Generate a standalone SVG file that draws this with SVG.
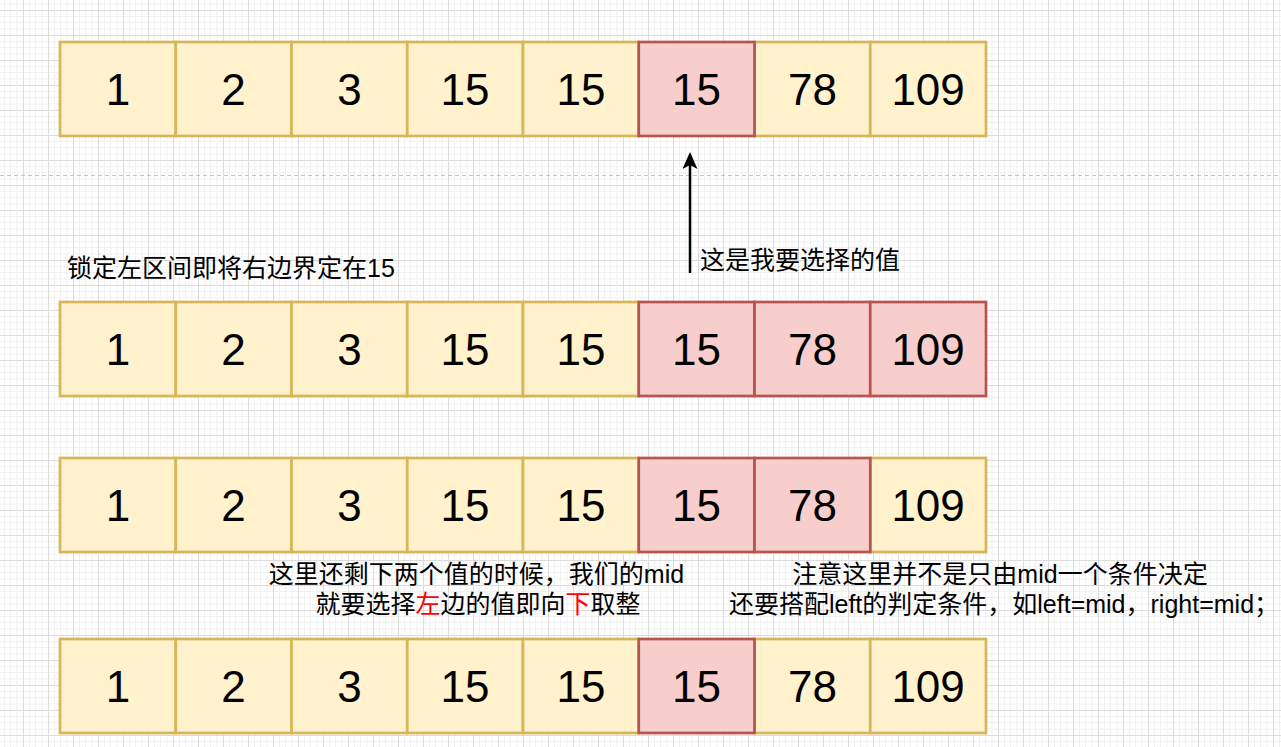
<svg xmlns="http://www.w3.org/2000/svg" width="1281" height="747" viewBox="0 0 1281 747">
<defs>
<pattern id="grid" patternUnits="userSpaceOnUse" x="23" y="10" width="25" height="25">
<path d="M6.5 0V25M12.5 0V25M19 0V25M0 6.5H25M0 12.5H25M0 19H25" stroke="#f1f1f1" stroke-width="1" fill="none"/>
<path d="M0.5 0V25M0 0.5H25" stroke="#dcdcdc" stroke-width="1" fill="none"/>
</pattern>
<marker id="arrow" markerUnits="userSpaceOnUse" viewBox="0 0 17 15" markerWidth="17" markerHeight="15" refX="4" refY="7.5" orient="auto">
<path d="M0 0L17 7.5L0 15L4 7.5Z" fill="#000"/>
</marker>
<style>
.y{fill:#fff2cc;stroke:#d6b656;stroke-width:2.7}
.r{fill:#f8cecc;stroke:#b85450;stroke-width:2.7}
.n{font-family:"Liberation Sans",Arial,sans-serif;font-size:44px;fill:#000;text-anchor:middle}
.t{font-family:"Liberation Sans","Noto Sans CJK SC",sans-serif;font-size:25px;fill:#000}
.c{text-anchor:middle}
.red{fill:#ff0000}
</style>
</defs>
<rect width="1281" height="747" fill="#ffffff"/>
<rect width="1281" height="747" fill="url(#grid)"/>
<line x1="0" y1="175.5" x2="1281" y2="175.5" stroke="#c4c4c4" stroke-width="1" stroke-dasharray="4 3"/>

<g id="row1">
<g id="r1c1"><rect class="y" x="60" y="42" width="115.75" height="94"/><text class="n" x="117.9" y="104.5">1</text></g>
<g id="r1c2"><rect class="y" x="175.75" y="42" width="115.75" height="94"/><text class="n" x="233.6" y="104.5">2</text></g>
<g id="r1c3"><rect class="y" x="291.5" y="42" width="115.75" height="94"/><text class="n" x="349.4" y="104.5">3</text></g>
<g id="r1c4"><rect class="y" x="407.25" y="42" width="115.75" height="94"/><text class="n" x="465.1" y="104.5">15</text></g>
<g id="r1c5"><rect class="y" x="523" y="42" width="115.75" height="94"/><text class="n" x="580.9" y="104.5">15</text></g>
<g id="r1c7"><rect class="y" x="754.5" y="42" width="115.75" height="94"/><text class="n" x="812.4" y="104.5">78</text></g>
<g id="r1c8"><rect class="y" x="870.25" y="42" width="115.75" height="94"/><text class="n" x="928.1" y="104.5">109</text></g>
<g id="r1c6"><rect class="r" x="638.75" y="42" width="115.75" height="94"/><text class="n" x="696.6" y="104.5">15</text></g>
</g>

<g id="row2">
<g id="r2c1"><rect class="y" x="60" y="302" width="115.75" height="94"/><text class="n" x="117.9" y="364.5">1</text></g>
<g id="r2c2"><rect class="y" x="175.75" y="302" width="115.75" height="94"/><text class="n" x="233.6" y="364.5">2</text></g>
<g id="r2c3"><rect class="y" x="291.5" y="302" width="115.75" height="94"/><text class="n" x="349.4" y="364.5">3</text></g>
<g id="r2c4"><rect class="y" x="407.25" y="302" width="115.75" height="94"/><text class="n" x="465.1" y="364.5">15</text></g>
<g id="r2c5"><rect class="y" x="523" y="302" width="115.75" height="94"/><text class="n" x="580.9" y="364.5">15</text></g>
<g id="r2c6"><rect class="r" x="638.75" y="302" width="115.75" height="94"/><text class="n" x="696.6" y="364.5">15</text></g>
<g id="r2c7"><rect class="r" x="754.5" y="302" width="115.75" height="94"/><text class="n" x="812.4" y="364.5">78</text></g>
<g id="r2c8"><rect class="r" x="870.25" y="302" width="115.75" height="94"/><text class="n" x="928.1" y="364.5">109</text></g>
</g>

<g id="row3">
<g id="r3c1"><rect class="y" x="60" y="458" width="115.75" height="94"/><text class="n" x="117.9" y="520.5">1</text></g>
<g id="r3c2"><rect class="y" x="175.75" y="458" width="115.75" height="94"/><text class="n" x="233.6" y="520.5">2</text></g>
<g id="r3c3"><rect class="y" x="291.5" y="458" width="115.75" height="94"/><text class="n" x="349.4" y="520.5">3</text></g>
<g id="r3c4"><rect class="y" x="407.25" y="458" width="115.75" height="94"/><text class="n" x="465.1" y="520.5">15</text></g>
<g id="r3c5"><rect class="y" x="523" y="458" width="115.75" height="94"/><text class="n" x="580.9" y="520.5">15</text></g>
<g id="r3c8"><rect class="y" x="870.25" y="458" width="115.75" height="94"/><text class="n" x="928.1" y="520.5">109</text></g>
<g id="r3c6"><rect class="r" x="638.75" y="458" width="115.75" height="94"/><text class="n" x="696.6" y="520.5">15</text></g>
<g id="r3c7"><rect class="r" x="754.5" y="458" width="115.75" height="94"/><text class="n" x="812.4" y="520.5">78</text></g>
</g>

<g id="row4">
<g id="r4c1"><rect class="y" x="60" y="639" width="115.75" height="94"/><text class="n" x="117.9" y="701.5">1</text></g>
<g id="r4c2"><rect class="y" x="175.75" y="639" width="115.75" height="94"/><text class="n" x="233.6" y="701.5">2</text></g>
<g id="r4c3"><rect class="y" x="291.5" y="639" width="115.75" height="94"/><text class="n" x="349.4" y="701.5">3</text></g>
<g id="r4c4"><rect class="y" x="407.25" y="639" width="115.75" height="94"/><text class="n" x="465.1" y="701.5">15</text></g>
<g id="r4c5"><rect class="y" x="523" y="639" width="115.75" height="94"/><text class="n" x="580.9" y="701.5">15</text></g>
<g id="r4c7"><rect class="y" x="754.5" y="639" width="115.75" height="94"/><text class="n" x="812.4" y="701.5">78</text></g>
<g id="r4c8"><rect class="y" x="870.25" y="639" width="115.75" height="94"/><text class="n" x="928.1" y="701.5">109</text></g>
<g id="r4c6"><rect class="r" x="638.75" y="639" width="115.75" height="94"/><text class="n" x="696.6" y="701.5">15</text></g>
</g>

<g id="connectors">
<line x1="690" y1="273" x2="690" y2="165" stroke="#000" stroke-width="2.5" marker-end="url(#arrow)"/>
</g>

<g id="label-lock"><text class="t" x="67" y="277">锁定左区间即将右边界定在15</text></g>
<g id="label-select"><text class="t" x="700" y="269">这是我要选择的值</text></g>
<g id="label-mid">
<text class="t c" x="476.5" y="583">这里还剩下两个值的时候，我们的mid</text>
<text class="t c" x="478" y="613">就要选择<tspan class="red">左</tspan>边的值即向<tspan class="red">下</tspan>取整</text>
</g>
<g id="label-note">
<text class="t c" x="1000" y="583">注意这里并不是只由mid一个条件决定</text>
<text class="t c" x="1004" y="613">还要搭配left的判定条件，如left=mid，right=mid；</text>
</g>
</svg>
